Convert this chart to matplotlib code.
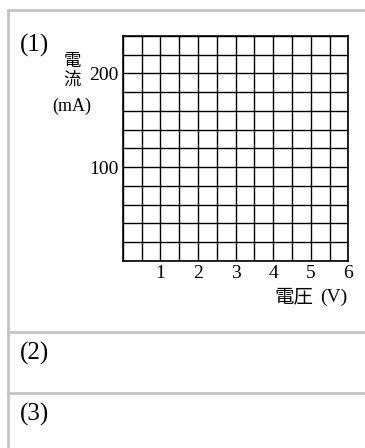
import matplotlib
matplotlib.use("Agg")
import matplotlib.pyplot as plt
from matplotlib.lines import Line2D
import numpy as np

# ---- data ----
x_ticks = [1, 2, 3, 4, 5, 6]
y_ticks = [100, 200]
x_max = 6
y_max = 240
x_grid_step = 0.5
y_grid_step = 20
question_labels = ["(1)", "(2)", "(3)"]
y_label_chars = ["電", "流"]
y_unit = "(mA)"
x_label_jp = "電圧"
x_label_unit = "(V)"

W, H = 365, 448
DPI = 100
fig = plt.figure(figsize=(W / DPI, H / DPI), dpi=DPI)
fig.patch.set_facecolor("white")

serif = ["Liberation Serif", "DejaVu Serif"]
jp = ["Noto Sans CJK JP", "Liberation Serif"]

def fx(px):
    return px / W

def fy(py):
    return 1 - py / H

# table borders
gray = "#c4c4c4"
lw_tab = 2.0
fig.add_artist(Line2D([fx(8), fx(W)], [fy(10), fy(10)], color=gray, lw=lw_tab))
fig.add_artist(Line2D([fx(8), fx(8)], [fy(10), fy(H)], color=gray, lw=lw_tab))
fig.add_artist(Line2D([fx(8), fx(W)], [fy(331.7), fy(331.7)], color=gray, lw=lw_tab))
fig.add_artist(Line2D([fx(8), fx(W)], [fy(393.3), fy(393.3)], color=gray, lw=lw_tab))

# grid axes
L, R, T, B = 122.7, 348.3, 36.0, 260.7
ax = fig.add_axes([fx(L), fy(B), fx(R) - fx(L), fy(T) - fy(B)])
ax.set_xlim(0, x_max)
ax.set_ylim(0, y_max)
ax.set_xticks(np.arange(0, x_max + 1e-9, x_grid_step), minor=True)
ax.set_yticks(np.arange(0, y_max + 1e-9, y_grid_step), minor=True)
ax.set_xticks(x_ticks)
ax.set_yticks(y_ticks)
num_fs = 14
ax.set_xticklabels([str(v) for v in x_ticks], fontfamily=serif, fontsize=num_fs)
ax.set_yticklabels([str(v) for v in y_ticks], fontfamily=serif, fontsize=num_fs)
ax.grid(which="minor", color="black", lw=1.0)
ax.grid(which="major", color="black", lw=1.0)
ax.tick_params(which="both", length=0)
ax.tick_params(axis="x", pad=3)
ax.tick_params(axis="y", pad=3)
for s in ax.spines.values():
    s.set_linewidth(1.2)
    s.set_color("black")
ax.set_axisbelow(False)

# texts
q_fs = 18
for lab, yy in zip(question_labels, [45, 353, 414]):
    fig.text(fx(20), fy(yy), lab, fontfamily=serif, fontsize=q_fs, va="center", ha="left")

fig.text(fx(72), fy(61), y_label_chars[0], fontfamily=jp, fontsize=12.5, va="center", ha="center")
fig.text(fx(72), fy(80), y_label_chars[1], fontfamily=jp, fontsize=12.5, va="center", ha="center")
fig.text(fx(72), fy(106), y_unit, fontfamily=serif, fontsize=13, va="center", ha="center")

t_unit = fig.text(fx(347), fy(297), x_label_unit, fontfamily=serif, fontsize=num_fs,
                  va="center", ha="right")
renderer = fig.canvas.get_renderer()
bb = t_unit.get_window_extent(renderer)
fig.text((bb.x0 - 6) / W, fy(297), x_label_jp, fontfamily=jp, fontsize=14,
         va="center", ha="right")

fig.savefig("out.png", dpi=DPI, facecolor="white")
